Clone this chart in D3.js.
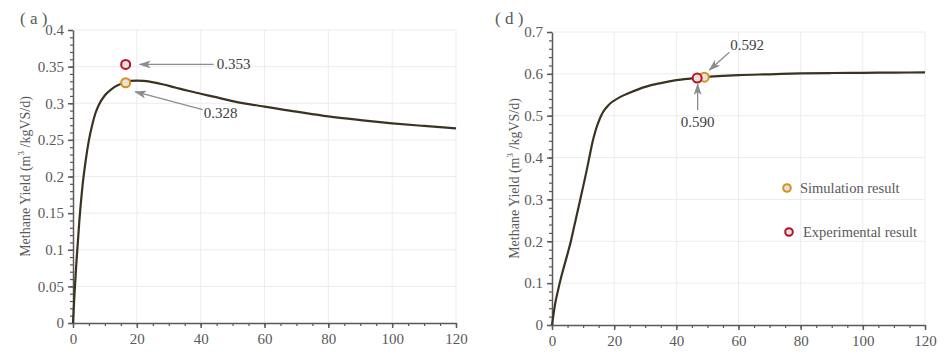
<!DOCTYPE html>
<html>
<head>
<meta charset="utf-8">
<script src="https://cdn.jsdelivr.net/npm/d3@7"></script>
<style>
  body { margin: 0; background: #fff; }
  text { font-family: "Liberation Serif", "DejaVu Serif", serif; }
</style>
</head>
<body>
<div id="chart"></div>
<script>
// panel (a): methane yield vs. time
var daysA = [0, 0.5, 1, 2, 3, 4, 5, 6, 7, 8, 10, 12, 14, 16, 18, 20, 22, 24, 28, 32, 36, 40, 44, 50, 60, 70, 80, 90, 100, 110, 120];
var yieldA = [0, 0.042, 0.078, 0.14, 0.188, 0.2225, 0.25, 0.27, 0.286, 0.297, 0.311, 0.319, 0.3245, 0.328, 0.3305, 0.331, 0.3305, 0.3295, 0.326, 0.3215, 0.317, 0.313, 0.309, 0.303, 0.2953, 0.2885, 0.282, 0.277, 0.2726, 0.269, 0.2658];
var simA = [16.5, 0.328];
var expA = [16.5, 0.353];

// panel (d)
var daysD = [0, 1, 2, 3, 4, 5, 6, 7, 8, 9, 10, 11, 12, 13, 14, 15, 16, 17, 18, 19, 20, 22, 25, 30, 35, 40, 45, 50, 55, 60, 70, 80, 90, 100, 110, 120];
var yieldD = [0, 0.05, 0.085, 0.116, 0.143, 0.17, 0.198, 0.231, 0.264, 0.297, 0.33, 0.364, 0.4, 0.436, 0.464, 0.486, 0.503, 0.515, 0.524, 0.531, 0.536, 0.545, 0.555, 0.569, 0.578, 0.585, 0.589, 0.5925, 0.595, 0.597, 0.599, 0.601, 0.602, 0.6025, 0.603, 0.6035];
var simD = [49, 0.592];
var expD = [46.7, 0.590];

var xTicks = [0, 20, 40, 60, 80, 100, 120];
var yTicksA = [0, 0.05, 0.1, 0.15, 0.2, 0.25, 0.3, 0.35, 0.4];
var yTicksD = [0, 0.1, 0.2, 0.3, 0.4, 0.5, 0.6, 0.7];

var simColor = "#d8901e";
var expColor = "#b5122f";
var lineColor = "#3a3320";
var textColor = "#595959";
var arrowColor = "#8c8c8c";

var svg = d3.select("#chart").append("svg")
  .attr("width", 950)
  .attr("height", 363);

// arrow head
svg.append("defs").append("marker")
  .attr("id", "arrow")
  .attr("viewBox", "0 0 12 8")
  .attr("refX", 11).attr("refY", 4)
  .attr("markerWidth", 12).attr("markerHeight", 8)
  .attr("markerUnits", "userSpaceOnUse")
  .attr("orient", "auto")
  .append("path")
  .attr("d", "M0,0 L12,4 L0,8 L3,4 Z")
  .attr("fill", arrowColor);

function drawPanel(opt) {
  var x = d3.scaleLinear().domain([0, 120]).range([opt.left, opt.right]);
  var y = d3.scaleLinear().domain([0, opt.yMax]).range([opt.bottom, opt.top]);
  var g = svg.append("g");

  // grid
  g.append("g").selectAll("line").data(xTicks.slice(1)).enter().append("line")
    .attr("x1", d => x(d)).attr("x2", d => x(d))
    .attr("y1", opt.top).attr("y2", opt.bottom)
    .attr("stroke", "#ececec").attr("stroke-width", 1);
  g.append("g").selectAll("line").data(opt.yTicks.slice(1)).enter().append("line")
    .attr("x1", opt.left).attr("x2", opt.right)
    .attr("y1", d => y(d)).attr("y2", d => y(d))
    .attr("stroke", "#ececec").attr("stroke-width", 1);

  // minor ticks
  var xMinor = d3.range(0, 120.01, 5);
  var yMinor = d3.range(0, opt.yMax + 1e-9, opt.yMinor);
  g.append("g")
    .attr("transform", `translate(0, ${opt.bottom})`)
    .call(d3.axisBottom(x).tickValues(xMinor).tickSize(3).tickFormat(""))
    .call(a => a.select(".domain").remove())
    .call(a => a.selectAll("line").attr("stroke", "#595959").attr("stroke-width", 1.2));
  g.append("g")
    .attr("transform", `translate(${opt.left}, 0)`)
    .call(d3.axisLeft(y).tickValues(yMinor).tickSize(3).tickFormat(""))
    .call(a => a.select(".domain").remove())
    .call(a => a.selectAll("line").attr("stroke", "#595959").attr("stroke-width", 1.2));

  // major axes
  var bottomAxis = g.append("g")
    .attr("transform", `translate(0, ${opt.bottom})`)
    .call(d3.axisBottom(x).tickValues(xTicks).tickSize(5).tickSizeOuter(0).tickPadding(5).tickFormat(d3.format("d")));
  var leftAxis = g.append("g")
    .attr("transform", `translate(${opt.left}, 0)`)
    .call(d3.axisLeft(y).tickValues(opt.yTicks).tickSize(5).tickSizeOuter(0).tickPadding(4).tickFormat(d => d === 0 ? "0" : d3.format("")(+d.toFixed(2))));
  [bottomAxis, leftAxis].forEach(function (a) {
    a.select(".domain").attr("stroke", "#595959").attr("stroke-width", 1.5);
    a.selectAll(".tick line").attr("stroke", "#595959").attr("stroke-width", 1.5);
    a.selectAll(".tick text")
      .attr("fill", textColor)
      .attr("font-size", 15)
      .style("font-family", "'Liberation Serif', serif");
  });

  // curve
  var line = d3.line()
    .x(d => x(d[0]))
    .y(d => y(d[1]))
    .curve(d3.curveMonotoneX);
  g.append("path")
    .datum(opt.days.map((d, i) => [d, opt.values[i]]))
    .attr("d", line)
    .attr("fill", "none")
    .attr("stroke", lineColor)
    .attr("stroke-width", 2.2);

  // measured / simulated points
  g.append("circle")
    .attr("cx", x(opt.sim[0])).attr("cy", y(opt.sim[1])).attr("r", 4.5)
    .attr("fill", "#e6e2d8").attr("stroke", simColor).attr("stroke-width", 2);
  g.append("circle")
    .attr("cx", x(opt.exp[0])).attr("cy", y(opt.exp[1])).attr("r", 4.5)
    .attr("fill", "#e6e2d8").attr("stroke", expColor).attr("stroke-width", 2);

  // annotations: offsets in px from the point
  opt.notes.forEach(function (n) {
    var px = x(n.pt[0]), py = y(n.pt[1]);
    g.append("line")
      .attr("x1", px + n.tail[0]).attr("y1", py + n.tail[1])
      .attr("x2", px + n.tip[0]).attr("y2", py + n.tip[1])
      .attr("stroke", arrowColor).attr("stroke-width", 1.3)
      .attr("marker-end", "url(#arrow)");
    g.append("text")
      .attr("x", px + n.txt[0]).attr("y", py + n.txt[1])
      .attr("text-anchor", n.anchor || "start")
      .attr("fill", "#404040")
      .attr("font-size", 15)
      .text(n.pt[1].toFixed(3));
  });

  // panel label
  svg.append("text")
    .attr("x", opt.labelX).attr("y", 24)
    .attr("fill", textColor)
    .attr("font-size", 17)
    .text(opt.label);

  // y axis title
  var title = svg.append("text")
    .attr("transform", `translate(${opt.titleX}, ${(opt.top + opt.bottom) / 2}) rotate(-90)`)
    .attr("text-anchor", "middle")
    .attr("fill", textColor)
    .attr("font-size", 14);
  title.append("tspan").text("Methane Yield (m");
  title.append("tspan").attr("dy", -6).attr("font-size", 9).text("3");
  title.append("tspan").attr("dy", 6).text(" /kgVS/d)");

  return { x: x, y: y };
}

drawPanel({
  left: 73, right: 456, top: 30, bottom: 323, yMax: 0.4, yMinor: 0.01,
  yTicks: yTicksA, days: daysA, values: yieldA, sim: simA, exp: expA,
  label: "( a )", labelX: 20, titleX: 30,
  notes: [
    { pt: expA, tip: [14, 0], tail: [88, 0], txt: [91, 5] },
    { pt: simA, tip: [9.5, 9], tail: [77, 27], txt: [78, 35] }
  ]
});

drawPanel({
  left: 552, right: 925, top: 32, bottom: 325, yMax: 0.7, yMinor: 0.02,
  yTicks: yTicksD, days: daysD, values: yieldD, sim: simD, exp: expD,
  label: "( d )", labelX: 495, titleX: 519,
  notes: [
    { pt: simD, tip: [5, -7], tail: [25, -25], txt: [26, -27] },
    { pt: expD, tip: [0.5, 6], tail: [0.5, 32], txt: [0.5, 49], anchor: "middle" }
  ]
});

// legend
var legend = svg.append("g");
var legendItems = [
  { name: "Simulation result", color: simColor, cx: 787, cy: 188, tx: 800 },
  { name: "Experimental result", color: expColor, cx: 789, cy: 232, tx: 803 }
];
legend.selectAll("circle").data(legendItems).enter().append("circle")
  .attr("cx", d => d.cx).attr("cy", d => d.cy).attr("r", 3.8)
  .attr("fill", "#e6e2d8").attr("stroke", d => d.color).attr("stroke-width", 2);
legend.selectAll("text").data(legendItems).enter().append("text")
  .attr("x", d => d.tx).attr("y", d => d.cy + 4.5)
  .attr("fill", textColor)
  .attr("font-size", 14.5)
  .text(d => d.name);
</script>
</body>
</html>
